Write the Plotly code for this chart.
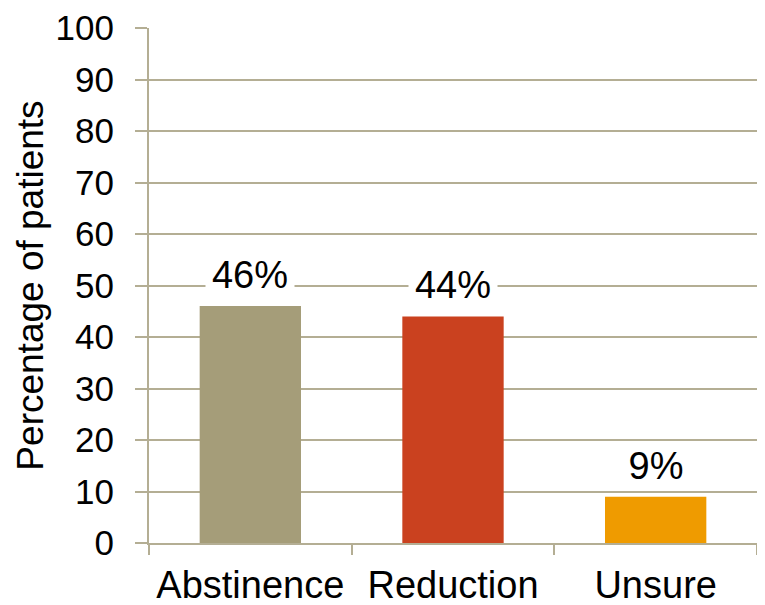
import plotly.graph_objects as go

categories = ["Abstinence", "Reduction", "Unsure"]
values = [46, 44, 9]
labels = ["46%", "44%", "9%"]
colors = ["#A59D79", "#CA411F", "#EF9B00"]
y_ticks = list(range(0, 101, 10))

grid = "#B4AE94"
font = "Liberation Sans, Arial, sans-serif"

fig = go.Figure(go.Bar(x=categories, y=values, marker_color=colors,
                       marker_line_width=0, width=0.5, hoverinfo="skip"))

for c, v, t in zip(categories, values, labels):
    fig.add_annotation(x=c, y=v, text=t, showarrow=False, yanchor="bottom",
                       yshift=10, bgcolor="white", borderpad=0,
                       width=18 * len(t) + 34, height=40,
                       font=dict(size=38, color="black", family=font))

fig.update_layout(
    width=757, height=597,
    margin=dict(l=141, r=8, t=20, b=62),
    paper_bgcolor="white", plot_bgcolor="white",
    font=dict(family=font, size=36, color="black"),
    showlegend=False,
    bargap=0.5,
)
fig.update_xaxes(showline=True, linecolor=grid, linewidth=2,
                 ticks="outside", tickson="boundaries", ticklen=10,
                 tickcolor=grid, tickwidth=2, showgrid=False,
                 tickfont=dict(size=38), automargin=False,
                 ticklabelstandoff=7, ticklabeloverflow="allow")
fig.update_yaxes(range=[0, 100], tickvals=y_ticks, showline=True,
                 linecolor=grid, linewidth=2, ticks="outside", ticklen=12,
                 tickcolor=grid, tickwidth=2, showgrid=True, gridcolor=grid,
                 gridwidth=2, zeroline=False, tickfont=dict(size=35),
                 ticklabelstandoff=14, automargin=False,
                 ticklabeloverflow="allow",
                 title=dict(text="Percentage of patients", standoff=1,
                            font=dict(size=37)))

fig.write_html("out.html")
